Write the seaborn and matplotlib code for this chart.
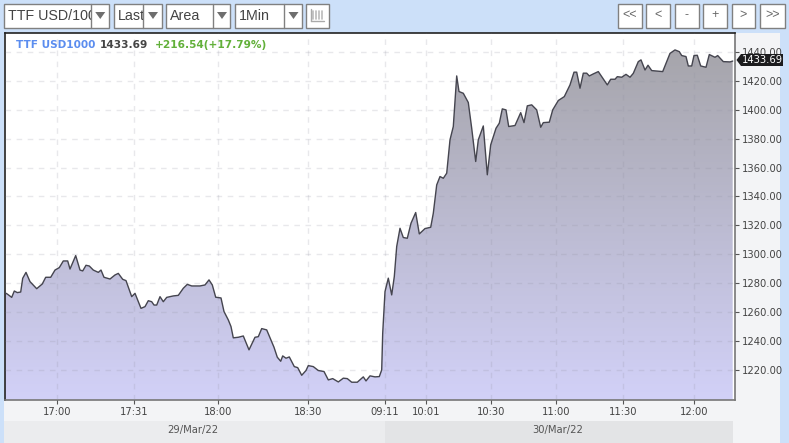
import numpy as np
import pandas as pd
import matplotlib
matplotlib.use("Agg")
import matplotlib.pyplot as plt
from matplotlib.colors import LinearSegmentedColormap
from matplotlib.patches import Rectangle, Polygon
import seaborn as sns

slots = [4.7,7.3,11.7,14.3,17.3,20.7,22.7,26,30,36.7,42.3,45.7,50.7,55,59.3,63.3,67.7,70,75.7,80,82.7,86,89.3,93.3,98.3,101,104,110,115,118.3,122.7,126,131.7,135,141,145,148.3,151.7,154,156.7,160,163.3,166.7,173.3,178.3,183.3,187.3,191.7,
         200,205,209,212.3,215.7,221,224,228.3,231,233.3,238.3,243.3,249,255,258.3,261.7,266.7,274,277.3,280.7,282.7,286,289.3,294.3,297.7,301.7,306,308.3,313.3,318.3,324,328.3,332.7,338.3,343.3,347.3,351.7,357.3,363.3,366,370,375,379.3,381.7,382.7,
         385,388.3,391.7,394.3,396.7,400,403.3,407.3,411,415.7,419.3,425,430.7,433.3,
         436.7,440,443.3,446.7,450,453.3,456.7,459,463.3,468.3,471.7,475.7,478.3,483.3,487.3,490.7,496,499.3,502.3,506,508.7,515,520.7,524,527.3,531.7,536.7,540.7,543.3,549.3,552.7,558.3,564.3,570,574,576.7,580,583.3,586.7,589.3,
         593.3,598.3,607.3,610.7,615,617.3,621.7,626,630,633.3,638.3,641,645,648,651.7,662.7,670,675,679.3,681.7,686,688.3,691.7,694,697.3,700.7,706,709.3,715,717.7,723.3,730,732.7]
prices = [1273.5,1272.5,1270.2,1274.6,1273.5,1273.9,1283.4,1287.5,1281.1,1276.2,1279.5,1284.1,1284.1,1289.1,1290.8,1295.4,1295.4,1289.8,1299.1,1289.1,1288.5,1292.4,1291.9,1289.1,1287.5,1289.1,1284.1,1282.9,1285.7,1286.8,1282.7,1281.8,1270.7,1273,1262.6,1263.8,1267.9,1267.2,1264.9,1264.9,1270.7,1267.2,1270.2,1271.2,1271.6,1276.5,1279.2,1278.1,
          1278.1,1278.8,1282.3,1278.8,1270.3,1269.8,1260.4,1254.6,1250,1242.2,1242.6,1243.5,1233.9,1242.6,1243,1248.6,1247.7,1235.7,1228.8,1226,1229.7,1228.1,1229,1222.3,1221.6,1216.3,1219.6,1223,1222.3,1219.6,1218.9,1213.1,1214,1211.7,1214.3,1214,1211.5,1211.5,1215.2,1212.4,1215.9,1215.2,1215.4,1220,1245.4,
          1274.2,1283.5,1271.9,1284.6,1305.4,1318,1311.6,1311.1,1321.5,1328.9,1314.1,1317.8,1318.7,1328.4,
          1348,1353.8,1352.6,1356.1,1379.2,1388.4,1423.4,1412.6,1411.4,1405,1387.2,1364.2,1379.2,1388.8,1355,1375.7,1387.2,1390.7,1400.6,1399.9,1388.4,1389.1,1398,1391.1,1402.7,1403.4,1399.9,1387.9,1391.1,1391.4,1399.9,1406.4,1409.1,1417.2,1426,1426,1414.9,1425.3,1425.3,1423.4,
          1424.8,1426.4,1417.2,1421.1,1421.1,1422.9,1422.5,1424.5,1422.5,1425.2,1433.3,1434.5,1427.5,1430.8,1427.1,1426.4,1439,1441.4,1440.2,1437.5,1436.8,1430.3,1430.3,1437.5,1437.7,1430.3,1429.4,1438.2,1436.3,1437.5,1433.3,1433.1,1433.69]

time_slots = [57, 134, 218, 308, 385, 426, 491, 556, 623, 694]
time_labels = ["17:00", "17:31", "18:00", "18:30", "09:11", "10:01", "10:30", "11:00", "11:30", "12:00"]
price_ticks = [1220, 1240, 1260, 1280, 1300, 1320, 1340, 1360, 1380, 1400, 1420, 1440]
date_labels = ["29/Mar/22", "30/Mar/22"]
dropdown_labels = ["TTF USD/1000", "Last", "Area", "1Min"]
nav_labels = ["<<", "<", "-", "+", ">", ">>"]

W, H = 789, 443
sns.set_theme(style="white")
plt.rcParams["font.family"] = ["DejaVu Sans"]
BG = "#cce0f9"
fig = plt.figure(figsize=(W / 100, H / 100), dpi=100, facecolor=BG)

def full_axes(z):
    a = fig.add_axes([0, 0, 1, 1], zorder=z)
    a.set_xlim(0, W); a.set_ylim(H, 0); a.axis("off"); a.patch.set_alpha(0)
    return a

under = full_axes(0)
over = full_axes(5)

# panels behind the plot
under.add_patch(Rectangle((4, 33), 776, 388, fc="#f3f4f6", ec="none"))
under.add_patch(Rectangle((4, 421), 381, 22, fc="#ebecee", ec="none"))
under.add_patch(Rectangle((385, 421), 348, 22, fc="#e3e4e6", ec="none"))
under.add_patch(Rectangle((733, 421), 47, 22, fc="#f3f4f6", ec="none"))

# plot area
L, R, T, B = 4.5, 735, 33, 400
ax = fig.add_axes([L / W, 1 - B / H, (R - L) / W, (B - T) / H], zorder=2, facecolor="white")
df = pd.DataFrame({"slot": slots, "price": prices})
ymin, ymax = 1199.2, 1453.1
ax.set_xlim(L, R); ax.set_ylim(ymin, ymax)

grad = LinearSegmentedColormap.from_list("g", ["#d2d1f8", "#a6a5ab"])
img = ax.imshow(np.linspace(0, 1, 256).reshape(-1, 1), origin="lower", aspect="auto", cmap=grad,
                extent=[L, R, ymin, 1441], zorder=1)
poly = ax.fill_between(df["slot"], df["price"], ymin, color="none", lw=0)
img.set_clip_path(poly.get_paths()[0], transform=ax.transData)
ax.set_xlim(L, R); ax.set_ylim(ymin, ymax)

sns.lineplot(data=df, x="slot", y="price", color="#45454f", lw=1.0, ax=ax, zorder=3,
             estimator=None, legend=False)
ax.set_xlabel(""); ax.set_ylabel("")

ax.set_xticks(time_slots, time_labels)
ax.set_yticks(price_ticks, [f"{v:.2f}" for v in price_ticks])
ax.yaxis.tick_right()
ax.grid(True, color="#8f8f9f", alpha=0.2, lw=1, ls=(0, (4, 4)))
ax.set_axisbelow(False)
for l in ax.get_xgridlines() + ax.get_ygridlines():
    l.set_zorder(2)
ax.tick_params(axis="both", length=3, width=0.8, color="#555555", labelcolor="#444444", labelsize=7.2, pad=2)
ax.tick_params(axis="y", left=False, right=True)
ax.tick_params(axis="x", bottom=True, pad=2)
ax.spines["left"].set_color("#222222")
ax.spines["top"].set_color("#222222")
ax.spines["right"].set_color("#777777")
ax.spines["bottom"].set_color("#777777")
for s in ax.spines.values():
    s.set_linewidth(1.2)

# date bands
for cx, lab in zip([193, 558], date_labels):
    over.text(cx, 430, lab, ha="center", va="center", fontsize=7.2, color="#555555")

# header
over.text(16, 44.5, "TTF USD1000", fontsize=7.6, fontweight="bold", color="#5b8def", va="center")
over.text(100, 44.5, "1433.69", fontsize=7.6, fontweight="bold", color="#444444", va="center")
over.text(154.5, 44.5, "+216.54(+17.79%)", fontsize=7.6, fontweight="bold", color="#62b03a", va="center")

# current price tag
over.add_patch(Polygon([(736.5, 60), (741, 54), (783, 54), (783, 66), (741, 66)], fc="#1c1c1e", ec="none"))
over.text(762, 60.3, "1433.69", fontsize=7.2, color="white", ha="center", va="center")

# toolbar
EDGE = "#808080"
boxes = [(4, 108.5, 91), (114, 162, 143), (166, 230, 213), (235, 302, 284)]
for (x0, x1, d), lab in zip(boxes, dropdown_labels):
    over.add_patch(Rectangle((x0 + .5, 3.5), x1 - x0, 24, fc="white", ec=EDGE, lw=1))
    t = over.text(x0 + 4, 16, lab, fontsize=10.3, family="Liberation Sans", color="#444444", va="center")
    t.set_clip_on(True)
    t.set_clip_path(Rectangle((x0, 3), d - x0, 24, transform=over.transData))
    over.plot([d + .5, d + .5], [3.5, 27.5], color=EDGE, lw=1)
    c = (d + x1) / 2 + .5
    over.add_patch(Polygon([(c - 5, 12), (c + 5, 12), (c, 19)], fc="#6e6e6e", ec="none"))
over.add_patch(Rectangle((306.5, 3.5), 23, 24, fc="white", ec=EDGE, lw=1))
for bx in [313, 316, 319, 322]:
    over.plot([bx, bx], [11, 19], color="#bbbbbb", lw=1.2)
over.plot([311, 324], [20.5, 20.5], color="#aaaaaa", lw=1)
over.plot([311.5, 311.5], [9, 20.5], color="#aaaaaa", lw=1)

nav_x = [(618, 642), (646, 670), (675, 699), (703, 727), (732, 755), (760, 785)]
for (x0, x1), lab in zip(nav_x, nav_labels):
    over.add_patch(Rectangle((x0 + .5, 3.5), x1 - x0, 24, fc="white", ec=EDGE, lw=1))
    over.text((x0 + x1) / 2, 15, lab, fontsize=9, family="Liberation Sans", color="#666666",
              ha="center", va="center")

fig.savefig("out.png", dpi=100, facecolor=BG)
